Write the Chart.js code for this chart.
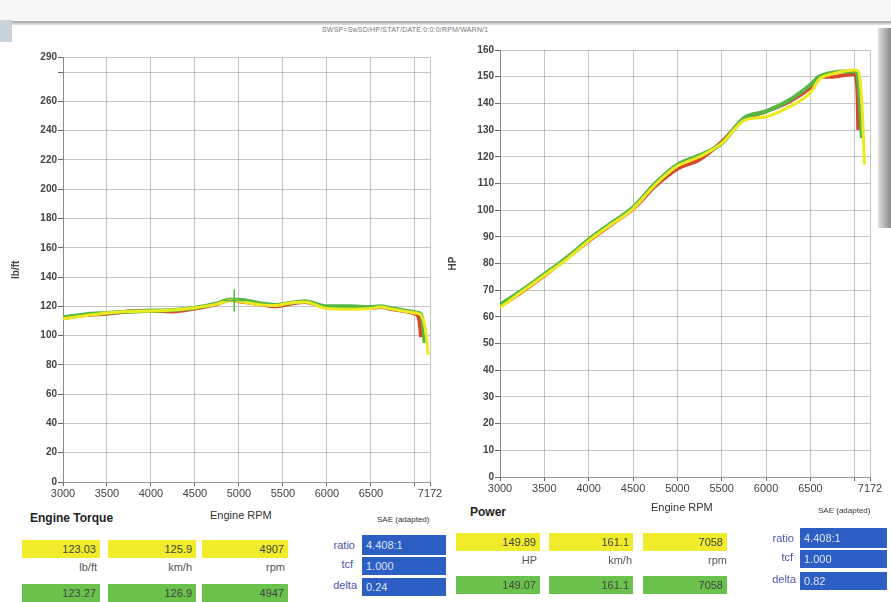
<!DOCTYPE html>
<html>
<head>
<meta charset="utf-8">
<script src="https://cdn.jsdelivr.net/npm/chart.js@4/dist/chart.umd.min.js"></script>
<style>
  body { margin: 0; background: #fff; font-family: "Liberation Sans", Arial, sans-serif; }
  #page { position: relative; width: 891px; height: 602px; overflow: hidden; background: #fff; }
  .cv { position: absolute; }
  .t { position: absolute; white-space: nowrap; color: #333; }
  .box { position: absolute; height: 18px; line-height: 18px; text-align: right; font-size: 11px; color: #444; padding-right: 4px; box-sizing: border-box; }
  .yel { background: #f0ec2c; }
  .grn { background: #6ac24c; }
  .blu { background: #2d5ec4; color: #dfe4f5; text-align: left; padding-left: 4px; }
  .lbl { position: absolute; font-size: 11px; color: #4a55a8; text-align: right; width: 50px; }
  .unit { position: absolute; font-size: 11px; color: #555; text-align: right; width: 60px; }
</style>
</head>
<body>
<div id="page">
  <div style="position:absolute;left:0;top:0;width:891px;height:20px;background:#f6f6f6"></div>
  <div style="position:absolute;left:8px;top:21px;width:883px;height:4px;background:linear-gradient(#9a9a9a,#e8e8e8)"></div>
  <div style="position:absolute;left:0;top:20px;width:12px;height:22px;background:#c9d1da"></div>
  <div style="position:absolute;left:878px;top:28px;width:13px;height:200px;background:linear-gradient(90deg,#e0e0e0,#8a8a8a)"></div>
  <div class="t" style="left:322px;top:26px;font-size:7px;color:#777;letter-spacing:0.2px">SWSP=SwSD/HP/STAT/DATE:0:0:0/RPM/WARN/1</div>

  <canvas id="torque" class="cv" style="left:10px;top:45px" width="440" height="455"></canvas>
  <canvas id="power" class="cv" style="left:447px;top:38px" width="443" height="457"></canvas>

  <!-- tabla izquierda -->
  <div class="t" style="left:30px;top:511px;font-size:12px;font-weight:bold;color:#222">Engine Torque</div>
  <div class="t" style="left:210px;top:509px;font-size:11px">Engine RPM</div>
  <div class="t" style="left:377px;top:515px;font-size:8px">SAE (adapted)</div>
  <div class="box yel" style="left:22px;top:540px;width:78px">123.03</div>
  <div class="box yel" style="left:108px;top:540px;width:88px">125.9</div>
  <div class="box yel" style="left:202px;top:540px;width:86px">4907</div>
  <div class="unit" style="left:37px;top:561px">lb/ft</div>
  <div class="unit" style="left:132px;top:561px">km/h</div>
  <div class="unit" style="left:225px;top:561px">rpm</div>
  <div class="box grn" style="left:22px;top:584px;width:78px">123.27</div>
  <div class="box grn" style="left:108px;top:584px;width:88px">126.9</div>
  <div class="box grn" style="left:202px;top:584px;width:86px">4947</div>
  <div class="lbl" style="left:305px;top:539px">ratio</div>
  <div class="box blu" style="left:362px;top:535px;width:84px;height:20px;line-height:20px">4.408:1</div>
  <div class="lbl" style="left:303px;top:558px">tcf</div>
  <div class="box blu" style="left:362px;top:557px;width:84px">1.000</div>
  <div class="lbl" style="left:307px;top:579px">delta</div>
  <div class="box blu" style="left:362px;top:578px;width:84px">0.24</div>

  <!-- tabla derecha -->
  <div class="t" style="left:470px;top:505px;font-size:12px;font-weight:bold;color:#222">Power</div>
  <div class="t" style="left:651px;top:501px;font-size:11px">Engine RPM</div>
  <div class="t" style="left:818px;top:506px;font-size:8px">SAE (adapted)</div>
  <div class="box yel" style="left:456px;top:533px;width:84px">149.89</div>
  <div class="box yel" style="left:549px;top:533px;width:84px">161.1</div>
  <div class="box yel" style="left:643px;top:533px;width:84px">7058</div>
  <div class="unit" style="left:477px;top:554px">HP</div>
  <div class="unit" style="left:572px;top:554px">km/h</div>
  <div class="unit" style="left:667px;top:554px">rpm</div>
  <div class="box grn" style="left:456px;top:576px;width:84px">149.07</div>
  <div class="box grn" style="left:549px;top:576px;width:84px">161.1</div>
  <div class="box grn" style="left:643px;top:576px;width:84px">7058</div>
  <div class="lbl" style="left:744px;top:532px">ratio</div>
  <div class="box blu" style="left:800px;top:528px;width:87px;height:20px;line-height:20px">4.408:1</div>
  <div class="lbl" style="left:743px;top:551px">tcf</div>
  <div class="box blu" style="left:800px;top:550px;width:87px">1.000</div>
  <div class="lbl" style="left:746px;top:573px">delta</div>
  <div class="box blu" style="left:800px;top:572px;width:87px">0.82</div>
</div>

<script>
// rpm eje x (comun)
const rpmTicks = [3000, 3500, 4000, 4500, 5000, 5500, 6000, 6500, 7000, 7172];

// Torque (lb/ft)
const torqueRpm = [3000, 3250, 3500, 3750, 4000, 4250, 4500, 4750, 4900, 5000, 5250, 5400, 5600, 5750, 6000, 6250, 6500, 6600, 6750, 7000, 7040, 7060, 7070, 7080, 7100, 7110, 7130, 7150];
const torqueRed = [112, 114, 115, 116.5, 117, 116.5, 118.5, 121.5, 124.5, 123.5, 121.5, 120, 122, 123, 119.5, 119, 119, 119.5, 118, 115, 113, 106, 99, null, null, null, null, null];
const torqueGreen = [112.5, 114.5, 115.5, 116.5, 117, 117.5, 119, 122, 124.5, 124.5, 122, 121, 122.5, 123.5, 120, 120, 119.5, 120, 118.5, 116, 115.5, 115, null, 113, 104, 95, null, null];
const torqueYellow = [111.5, 113.5, 115.5, 116.5, 116.8, 117.5, 119, 121.5, 124, 123.5, 121, 120.5, 122.5, 123, 118.5, 118, 118.5, 119.5, 118, 115.5, 115, 114.5, null, 113, 110, null, 100, 87];
const torqueTicks = [0, 20, 40, 60, 80, 100, 120, 140, 160, 180, 200, 220, 240, 260, 280, 290];
const cursorTorque = [4947, 124];

// Potencia (HP)
const powerRpm = [3000, 3250, 3500, 3750, 4000, 4250, 4500, 4750, 5000, 5250, 5500, 5750, 6000, 6250, 6500, 6600, 6750, 7000, 7030, 7040, 7060, 7080, 7110];
const powerRed = [64, 69.5, 75.5, 82, 88.5, 94.5, 100.5, 109, 115.5, 119, 125.5, 134, 137, 140.5, 146, 150, 150, 151, 145, 130, null, null, null];
const powerGreen = [64.5, 70, 76, 82, 89, 95, 101, 110, 117, 120.5, 125, 134.5, 137, 141, 147, 150, 151.5, 152, 151, null, 140, 127, null];
const powerYellow = [63.5, 69.5, 75.5, 81.5, 88.5, 94.5, 100.5, 109.5, 116.5, 120, 125, 133.5, 135, 138.5, 144, 149, 151, 152.5, null, 152, null, 140, 117];

const rojo = "#d9482c";
const verde = "#55b846";
const amarillo = "#ecea1e";
const gris = "rgba(140,140,140,0.5)";

// order mas alto = se dibuja debajo
function serie(rpm, vals, color, orden, ancho) {
  return {
    data: rpm.map((r, i) => ({ x: r, y: vals[i] })),
    borderColor: color,
    borderWidth: ancho,
    order: orden,
    pointRadius: 0,
    tension: 0.3,
    cubicInterpolationMode: "monotone",
    spanGaps: true,
  };
}

function opciones(yTicks, yMax, titulo, hideLabel) {
  return {
    responsive: false,
    animation: false,
    layout: { padding: { top: 12, right: 20, left: 0, bottom: 0 } },
    plugins: { legend: { display: false }, tooltip: { enabled: false } },
    scales: {
      x: {
        type: "linear",
        min: 3000,
        max: 7172,
        afterBuildTicks: (ax) => { ax.ticks = rpmTicks.map((v) => ({ value: v })); },
        afterFit: (ax) => { ax.height = 18; },
        ticks: {
          autoSkip: false,
          maxRotation: 0,
          padding: 1,
          color: "#444",
          font: { family: "Liberation Sans", size: 11 },
          callback: (v) => (v === 7000 ? "" : String(v)),
        },
        grid: { color: gris, tickLength: 4, tickColor: "#666" },
        border: { color: "#999" },
      },
      y: {
        min: 0,
        max: yMax,
        afterBuildTicks: (ax) => { ax.ticks = yTicks.map((v) => ({ value: v })); },
        afterFit: (ax) => { ax.width = 53; },
        title: { display: true, text: titulo, color: "#444", padding: 0, font: { family: "Liberation Sans", size: 10, weight: "bold" } },
        ticks: {
          autoSkip: false,
          padding: 1,
          color: "#444",
          font: { family: "Liberation Sans", size: 10, weight: "bold" },
          callback: (v) => (v === hideLabel ? "" : String(v)),
        },
        grid: { color: gris, tickLength: 5, tickColor: "#666" },
        border: { color: "#888" },
      },
    },
  };
}

new Chart(document.getElementById("torque"), {
  type: "line",
  data: {
    datasets: [
      serie(torqueRpm, torqueRed, rojo, 3, 4),
      serie(torqueRpm, torqueGreen, verde, 2, 4),
      serie(torqueRpm, torqueYellow, amarillo, 1, 3),
      {
        type: "scatter",
        data: [{ x: cursorTorque[0], y: cursorTorque[1] }],
        order: 0,
        pointStyle: "cross",
        pointRadius: 11,
        borderColor: verde,
        borderWidth: 1.5,
      },
    ],
  },
  options: opciones(torqueTicks, 290, "lb/ft", 280),
});

const powerTicks = [];
for (let v = 0; v <= 160; v += 10) powerTicks.push(v);

new Chart(document.getElementById("power"), {
  type: "line",
  data: {
    datasets: [
      serie(powerRpm, powerRed, rojo, 3, 4),
      serie(powerRpm, powerGreen, verde, 2, 4),
      serie(powerRpm, powerYellow, amarillo, 1, 3),
    ],
  },
  options: opciones(powerTicks, 160, "HP", null),
});
</script>
</body>
</html>
